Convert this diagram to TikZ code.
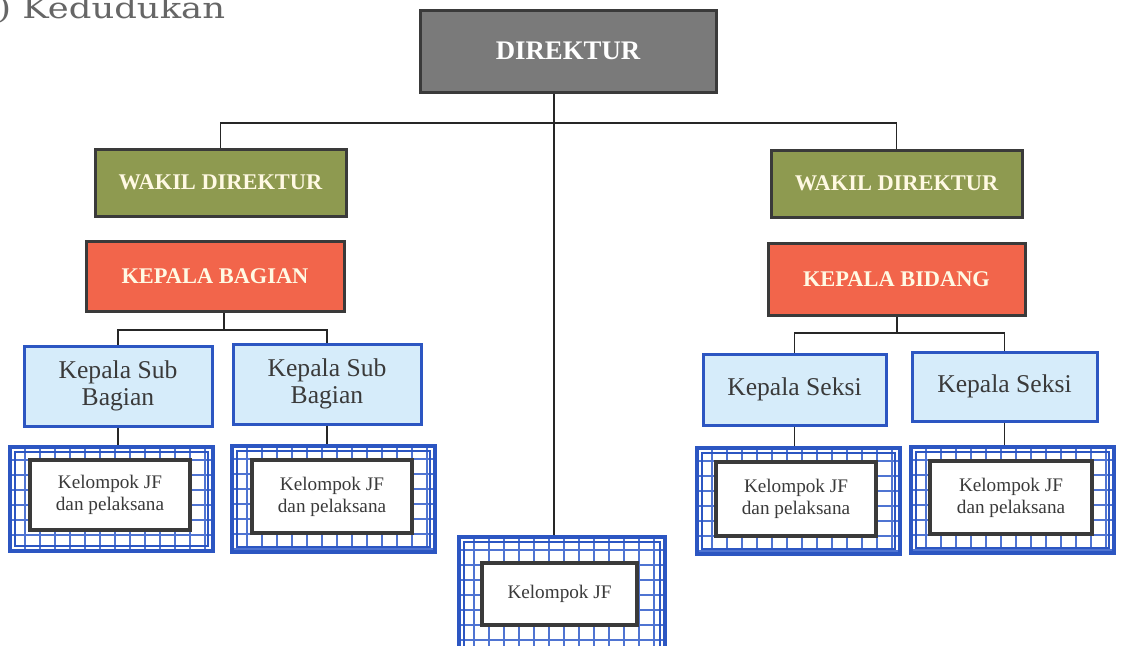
\documentclass[tikz,border=0pt]{standalone}
\usepackage{fontspec}
\setmainfont{Liberation Serif}
\newfontfamily\headfont{DejaVu Serif}
\usetikzlibrary{calc}

\definecolor{dirgrey}{HTML}{7A7A7A}
\definecolor{olivefill}{HTML}{8E9A50}
\definecolor{tomatofill}{HTML}{F2654B}
\definecolor{skyfill}{HTML}{D6ECFA}
\definecolor{boxblue}{HTML}{2C56C2}
\definecolor{gridblue}{HTML}{4F74D2}
\definecolor{frame}{HTML}{3A3A3A}
\definecolor{cream}{HTML}{FFF9E3}
\definecolor{inkgrey}{HTML}{3A3A3A}

\tikzset{
  base/.style={rectangle, inner sep=0pt, align=center},
  topbox/.style={base, draw=frame, line width=1.5pt, fill=dirgrey, text=white,
    font=\fontsize{13.4}{16}\selectfont\bfseries},
  wakil/.style={base, draw=frame, line width=1.5pt, fill=olivefill, text=cream,
    font=\fontsize{11.2}{13}\selectfont\bfseries, minimum width=125.5pt, minimum height=33.5pt},
  kepala/.style={base, draw=frame, line width=1.5pt, fill=tomatofill, text=cream,
    font=\fontsize{11.2}{13}\selectfont\bfseries},
  subbox/.style={base, draw=boxblue, line width=1.5pt, fill=skyfill, text=inkgrey,
    font=\fontsize{12.8}{13.5}\selectfont},
  gridbox/.style={base, draw=boxblue, line width=2pt, fill=white,
    path picture={
      \foreach \k in {1,...,14}{
        \draw[gridblue, line width=0.55pt]
          ([xshift=\k*7.5pt]path picture bounding box.south west) --
          ([xshift=\k*7.5pt]path picture bounding box.north west);
      }
      \foreach \k in {1,...,8}{
        \draw[gridblue, line width=0.55pt]
          ([yshift=-\k*7.5pt+1pt]path picture bounding box.north west) --
          ([yshift=-\k*7.5pt+1pt]path picture bounding box.north east);
      }
      \draw[boxblue, line width=0.7pt]
        ([shift={(2.5pt,2.5pt)}]path picture bounding box.south west) rectangle
        ([shift={(-2.5pt,-2.5pt)}]path picture bounding box.north east);
    }},
  jfbox/.style={base, draw=frame, line width=2.3pt, fill=white, text=inkgrey,
    font=\fontsize{9.6}{11}\selectfont},
  link/.style={draw=black!85, line width=0.9pt}
}

\begin{document}
\begin{tikzpicture}[x=0.5pt, y=-0.5pt]
\useasboundingbox[fill=white] (0,0) rectangle (1125,645);

% heading
\node[anchor=base west, text=black!60, inner sep=0pt] (head) at (-3,18)
  {\scalebox{1.22}[1]{\headfont\fontsize{14.5}{16}\selectfont ) Kedudukan}};

% top level
\node[topbox, minimum width=148pt, minimum height=41pt] (dir) at (568,51) {DIREKTUR};

% deputies
\node[wakil] (wk1) at (220.5,182.5) {WAKIL DIREKTUR};
\node[wakil] (wk2) at (896.5,183.5) {WAKIL DIREKTUR};

% heads of division
\node[kepala, minimum width=129pt, minimum height=35pt] (kb1) at (215,276) {KEPALA BAGIAN};
\node[kepala, minimum width=128.5pt, minimum height=36pt] (kb2) at (896.5,279) {KEPALA BIDANG};

% sub-units
\node[subbox, minimum width=94pt, minimum height=40pt] (sb1) at (118,386) {Kepala Sub\\Bagian};
\node[subbox, minimum width=94pt, minimum height=40pt] (sb2) at (327,384) {Kepala Sub\\Bagian};
\node[subbox, minimum width=91.5pt, minimum height=35.5pt] (ks1) at (794.5,389.5) {Kepala Seksi};
\node[subbox, minimum width=92.5pt, minimum height=34.5pt] (ks2) at (1004.5,386.5) {Kepala Seksi};

% functional groups (grid frames)
\node[gridbox, minimum width=101.5pt, minimum height=52pt] (g1) at (111.5,499) {};
\node[gridbox, minimum width=101.5pt, minimum height=53pt] (g2) at (333.5,499) {};
\node[gridbox, minimum width=101.5pt, minimum height=53pt] (g3) at (798.5,501) {};
\node[gridbox, minimum width=101.5pt, minimum height=53pt] (g4) at (1012.5,500) {};
\node[gridbox, minimum width=103pt, minimum height=60pt] (g5) at (562,597) {};

\node[jfbox, minimum width=80pt, minimum height=35pt] (j1) at (110,495) {Kelompok JF\\dan pelaksana};
\node[jfbox, minimum width=80pt, minimum height=36.5pt] (j2) at (332,496.5) {Kelompok JF\\dan pelaksana};
\node[jfbox, minimum width=80pt, minimum height=37pt] (j3) at (796,499) {Kelompok JF\\dan pelaksana};
\node[jfbox, minimum width=81pt, minimum height=36.5pt] (j4) at (1011,497.5) {Kelompok JF\\dan pelaksana};
\node[jfbox, minimum width=77.5pt, minimum height=31pt] (j5) at (559.5,594) {Kelompok JF};

% connectors
\coordinate (trunk) at (554,123);
\draw[link] (dir.south -| trunk) -- (g5.north -| trunk);
\draw[link] (wk1.north) |- (trunk) -| (wk2.north);

\coordinate (busA) at (224,330);
\draw[link] (kb1.south -| busA) -- (busA);
\draw[link] (sb1.north) |- (busA) -| (sb2.north);

\coordinate (busB) at (897,333);
\draw[link] (kb2.south -| busB) -- (busB);
\draw[link] (ks1.north) |- (busB) -| (ks2.north);

\draw[link] (sb1.south) -- (sb1.south |- g1.north);
\draw[link] (sb2.south) -- (sb2.south |- g2.north);
\draw[link] (ks1.south) -- (ks1.south |- g3.north);
\draw[link] (ks2.south) -- (ks2.south |- g4.north);
\end{tikzpicture}
\end{document}
